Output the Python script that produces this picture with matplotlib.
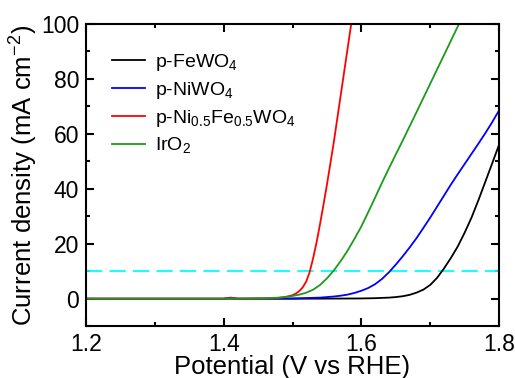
import numpy as np
import matplotlib
matplotlib.use('Agg')
import matplotlib.pyplot as plt
from matplotlib.ticker import MultipleLocator

plt.rcParams['font.family'] = ['Liberation Sans', 'DejaVu Sans']
plt.rcParams['mathtext.fontset'] = 'custom'
plt.rcParams['mathtext.rm'] = 'Liberation Sans'

# LSV curves (potential in V vs RHE, current in mA cm-2)
v_fe = [1.20, 1.30, 1.40, 1.50, 1.56, 1.60, 1.62, 1.64, 1.65, 1.66, 1.67, 1.68, 1.69, 1.70,
        1.71, 1.72, 1.73, 1.74, 1.75, 1.76, 1.77, 1.78, 1.79, 1.80]
j_fe = [0.0, 0.0, 0.0, 0.0, 0.05, 0.1, 0.2, 0.4, 0.6, 0.9, 1.4, 2.2, 3.3, 5.0,
        7.6, 11.0, 14.8, 19.0, 24.0, 29.5, 35.8, 42.5, 49.2, 56.0]

v_ni = [1.20, 1.30, 1.40, 1.41, 1.42, 1.50, 1.54, 1.56, 1.57, 1.58, 1.59, 1.60, 1.61, 1.62,
        1.63, 1.64, 1.65, 1.66, 1.67, 1.68, 1.69, 1.70, 1.71, 1.72, 1.73, 1.74, 1.75, 1.76,
        1.77, 1.78, 1.79, 1.80]
j_ni = [0.0, 0.0, 0.0, 0.4, 0.0, 0.1, 0.4, 0.8, 1.1, 1.5, 2.1, 2.9, 3.9, 5.3,
        7.2, 9.6, 12.4, 15.4, 18.6, 22.0, 25.7, 29.5, 33.5, 37.5, 41.5, 45.3, 49.0, 52.7,
        56.4, 60.2, 64.2, 68.5]

v_nife = [1.20, 1.30, 1.40, 1.41, 1.42, 1.46, 1.48, 1.49, 1.50, 1.505, 1.51, 1.515, 1.52,
          1.525, 1.53, 1.535, 1.54, 1.545, 1.55, 1.555, 1.56, 1.57, 1.58, 1.59]
j_nife = [0.0, 0.0, 0.0, 0.3, 0.0, 0.1, 0.3, 0.6, 1.3, 1.9, 2.8, 4.2, 6.3,
          9.8, 14.8, 20.6, 27.2, 34.2, 41.5, 49.2, 57.0, 74.0, 91.0, 108.0]

v_iro2 = [1.20, 1.30, 1.40, 1.44, 1.46, 1.48, 1.50, 1.51, 1.52, 1.53, 1.54, 1.55, 1.56, 1.57,
          1.58, 1.59, 1.60, 1.61, 1.62, 1.63, 1.64, 1.65, 1.66, 1.68, 1.70, 1.72, 1.74, 1.75]
j_iro2 = [0.0, 0.0, 0.0, 0.05, 0.1, 0.4, 1.0, 1.5, 2.2, 3.3, 5.0, 7.4, 10.3, 13.7,
          17.5, 21.8, 26.3, 31.5, 36.8, 42.2, 47.4, 52.5, 57.5, 67.8, 78.2, 88.6, 99.0, 104.0]

labels = [r'p-FeWO$_\mathregular{4}$', r'p-NiWO$_\mathregular{4}$',
          r'p-Ni$_\mathregular{0.5}$Fe$_\mathregular{0.5}$WO$_\mathregular{4}$',
          r'IrO$_\mathregular{2}$']
colors = ['black', 'blue', 'red', '#1a9c1a']
ref_j = 10

fig = plt.figure(figsize=(5.15, 3.78), dpi=100)
ax = fig.add_axes([0.167, 0.137, 0.802, 0.8])

ax.axhline(ref_j, color='cyan', lw=1.3, dashes=(9, 4))
for v, j, lab, c in zip([v_fe, v_ni, v_nife, v_iro2], [j_fe, j_ni, j_nife, j_iro2], labels, colors):
    ax.plot(v, j, color=c, lw=1.3, label=lab)

ax.set_xlim(1.2, 1.8)
ax.set_ylim(-10, 100)
ax.xaxis.set_major_locator(MultipleLocator(0.2))
ax.xaxis.set_minor_locator(MultipleLocator(0.1))
ax.yaxis.set_minor_locator(MultipleLocator(10))
ax.set_yticks([0, 20, 40, 60, 80, 100])
ax.tick_params(which='both', direction='in', top=True, right=True, width=1.5,
               labelsize=16.5, pad=5)
ax.tick_params(which='major', length=6)
ax.tick_params(which='minor', length=3)
for s in ax.spines.values():
    s.set_linewidth(1.5)

ax.set_xlabel('Potential (V vs RHE)', fontsize=18.5, labelpad=-1)
ax.set_ylabel(r'Current density (mA cm$^\mathregular{-2}$)', fontsize=18.5, labelpad=1)

ax.legend(loc='upper left', frameon=False, fontsize=14, handlelength=1.7,
          handletextpad=0.5, labelspacing=0.35, bbox_to_anchor=(0.02, 0.965))

fig.savefig('out.png', dpi=100)
